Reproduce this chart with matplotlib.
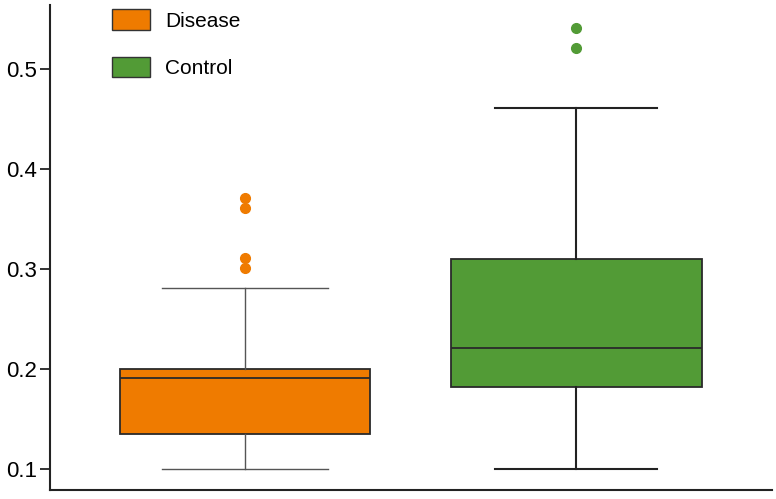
import matplotlib
matplotlib.use("Agg")
import matplotlib.pyplot as plt
from matplotlib.patches import Patch

# box statistics
groups = ["Disease", "Control"]
colors = ["#ef7b00", "#529b36"]
whislo = [0.100, 0.100]
q1 = [0.135, 0.182]
med = [0.191, 0.221]
q3 = [0.200, 0.310]
whishi = [0.281, 0.461]
fliers = [[0.371, 0.361, 0.311, 0.301], [0.541, 0.521]]
yticks = [0.1, 0.2, 0.3, 0.4, 0.5]

plt.rcParams['font.family'] = ['Liberation Sans', 'DejaVu Sans']

fig = plt.figure(figsize=(7.76, 4.99), dpi=100)
ax = fig.add_axes([0.0644, 0.018, 0.93, 0.972])

stats = []
for i in range(len(groups)):
    stats.append({"label": groups[i], "whislo": whislo[i], "q1": q1[i], "med": med[i],
                  "q3": q3[i], "whishi": whishi[i], "fliers": fliers[i]})

positions = [1, 2]
lw_whisk = [1.0, 1.5]
wcol = ["#555555", "#222222"]
for i, s in enumerate(stats):
    ax.bxp([s], positions=[positions[i]], widths=0.757, patch_artist=True,
           showfliers=True, capwidths=[0.5 - 0.01 * i],
           boxprops=dict(facecolor=colors[i], edgecolor="#2a2a2a", linewidth=1.3),
           medianprops=dict(color="#2a2a2a", linewidth=1.3),
           whiskerprops=dict(color=wcol[i], linewidth=lw_whisk[i]),
           capprops=dict(color=wcol[i], linewidth=lw_whisk[i]),
           flierprops=dict(marker="o", markerfacecolor=colors[i], markeredgecolor=colors[i],
                           markersize=7))

ax.set_xlim(0.411, 2.59)
ax.set_ylim(0.079, 0.564)
ax.set_yticks(yticks)
ax.set_yticklabels([str(t) for t in yticks], fontsize=16)
ax.set_xticks([])
ax.spines["top"].set_visible(False)
ax.spines["right"].set_visible(False)
ax.spines["left"].set_linewidth(1.5)
ax.spines["bottom"].set_linewidth(1.5)
ax.spines["left"].set_color("#222222")
ax.spines["bottom"].set_color("#222222")
ax.tick_params(axis="y", length=7, width=1.3, color="#222222", pad=2)

handles = [Patch(facecolor=colors[i], edgecolor="#333333", linewidth=1) for i in range(2)]
leg = ax.legend(handles, groups, loc="upper left", bbox_to_anchor=(0.06, 1.03),
                frameon=False, handlelength=1.83, handleheight=1.15,
                labelspacing=1.25, handletextpad=0.72, prop={"size": 15})

fig.savefig("out.png", dpi=100)
